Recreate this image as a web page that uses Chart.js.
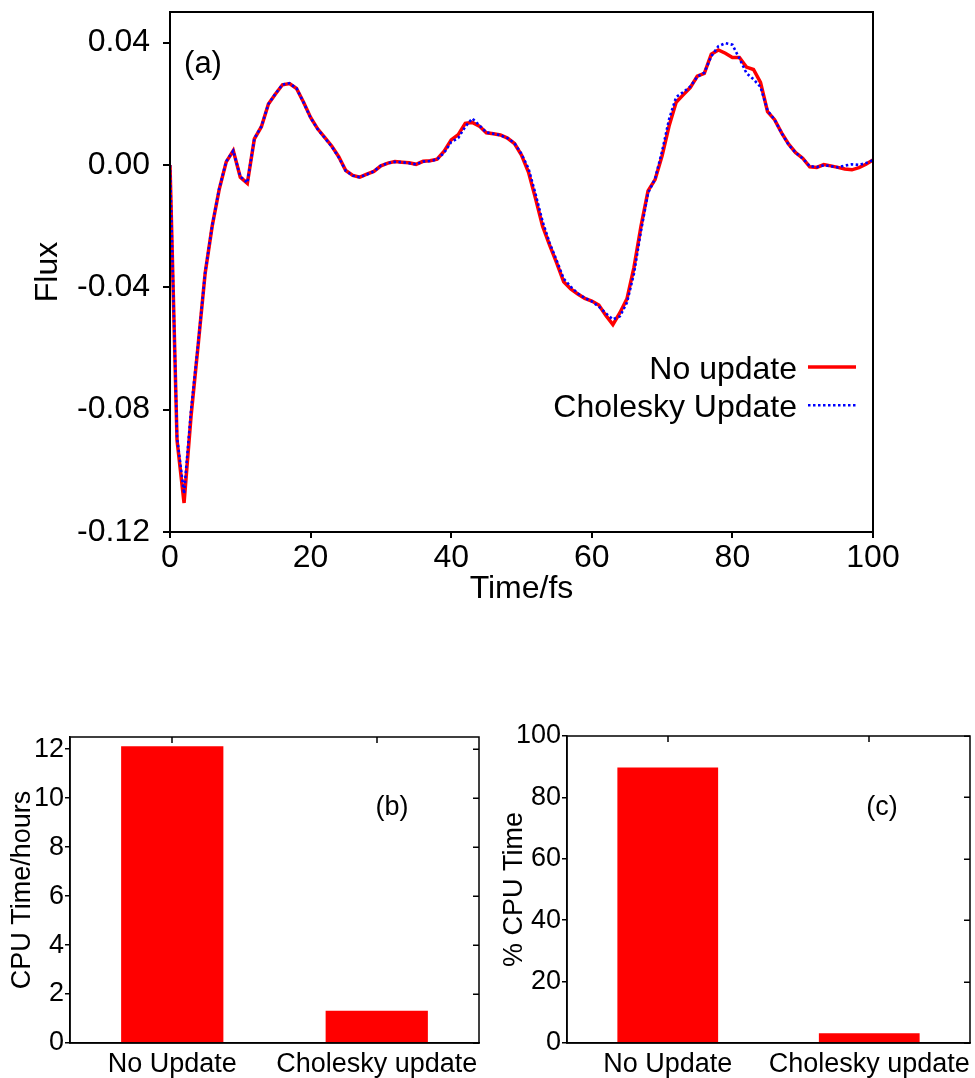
<!DOCTYPE html>
<html>
<head>
<meta charset="utf-8">
<title>Flux and CPU time</title>
<script src="https://cdn.jsdelivr.net/npm/chart.js@4.4.1/dist/chart.umd.min.js"></script>
<style>
  html, body { margin: 0; padding: 0; background: #fff; }
  body { width: 975px; height: 1078px; position: relative; overflow: hidden; }
  canvas { position: absolute; }
  #fluxChart { left: 0; top: 0; }
  #hoursChart { left: 0; top: 700px; }
  #percentChart { left: 490px; top: 700px; }
</style>
</head>
<body>
<canvas id="fluxChart" width="975" height="620"></canvas>
<canvas id="hoursChart" width="490" height="378"></canvas>
<canvas id="percentChart" width="485" height="378"></canvas>
<script>
const FONT = '"Liberation Sans", Arial, Helvetica, sans-serif';

// ---- panel (a): flux vs time ----
const timeFs = [
  0, 1, 2, 3, 4, 5, 6, 7, 8, 9,
  10, 11, 12, 13, 14, 15, 16, 17, 18, 19,
  20, 21, 22, 23, 24, 25, 26, 27, 28, 29,
  30, 31, 32, 33, 34, 35, 36, 37, 38, 39,
  40, 41, 42, 43, 44, 45, 46, 47, 48, 49,
  50, 51, 52, 53, 54, 55, 56, 57, 58, 59,
  60, 61, 62, 63, 64, 65, 66, 67, 68, 69,
  70, 71, 72, 73, 74, 75, 76, 77, 78, 79,
  80, 81, 82, 83, 84, 85, 86, 87, 88, 89,
  90, 91, 92, 93, 94, 95, 96, 97, 98, 99,
  100
];
const fluxNoUpdate = [
  0.0000, -0.0900, -0.1105, -0.0820, -0.0590, -0.0354, -0.0200, -0.0080, 0.0010, 0.0047,
  -0.0040, -0.0060, 0.0085, 0.0125, 0.0199, 0.0232, 0.0262, 0.0266, 0.0250, 0.0205,
  0.0155, 0.0118, 0.0090, 0.0062, 0.0027, -0.0018, -0.0034, -0.0040, -0.0030, -0.0021,
  -0.0003, 0.0006, 0.0011, 0.0009, 0.0007, 0.0002, 0.0012, 0.0014, 0.0019, 0.0045,
  0.0082, 0.0099, 0.0136, 0.0139, 0.0127, 0.0105, 0.0102, 0.0098, 0.0088, 0.0070,
  0.0032, -0.0024, -0.0110, -0.0200, -0.0262, -0.0320, -0.0382, -0.0405, -0.0422, -0.0436,
  -0.0445, -0.0458, -0.0492, -0.0522, -0.0483, -0.0438, -0.0335, -0.0200, -0.0085, -0.0048,
  0.0030, 0.0128, 0.0205, 0.0229, 0.0253, 0.0290, 0.0299, 0.0362, 0.0376, 0.0365,
  0.0351, 0.0351, 0.0320, 0.0312, 0.0270, 0.0174, 0.0148, 0.0105, 0.0068, 0.0040,
  0.0022, -0.0006, -0.0008, 0.0001, -0.0003, -0.0008, -0.0013, -0.0016, -0.0009, 0.0002,
  0.0016
];
const fluxCholesky = [
  0.0000, -0.0890, -0.1075, -0.0800, -0.0585, -0.0352, -0.0198, -0.0078, 0.0012, 0.0046,
  -0.0038, -0.0058, 0.0086, 0.0126, 0.0199, 0.0233, 0.0263, 0.0267, 0.0250, 0.0204,
  0.0154, 0.0117, 0.0089, 0.0060, 0.0025, -0.0019, -0.0035, -0.0040, -0.0031, -0.0021,
  -0.0002, 0.0006, 0.0010, 0.0009, 0.0006, 0.0002, 0.0011, 0.0013, 0.0018, 0.0040,
  0.0075, 0.0088, 0.0125, 0.0152, 0.0130, 0.0106, 0.0102, 0.0097, 0.0088, 0.0071,
  0.0036, -0.0012, -0.0095, -0.0185, -0.0255, -0.0312, -0.0372, -0.0398, -0.0420, -0.0435,
  -0.0446, -0.0463, -0.0485, -0.0505, -0.0495, -0.0450, -0.0355, -0.0215, -0.0092, -0.0045,
  0.0045, 0.0150, 0.0222, 0.0238, 0.0256, 0.0288, 0.0302, 0.0355, 0.0388, 0.0398,
  0.0393, 0.0348, 0.0300, 0.0280, 0.0255, 0.0178, 0.0148, 0.0104, 0.0066, 0.0040,
  0.0021, -0.0004, -0.0007, -0.0001, -0.0004, -0.0008, -0.0002, 0.0002, 0.0000, 0.0006,
  0.0016
];
const fluxTicks = [-0.12, -0.08, -0.04, 0.00, 0.04];
const timeTicks = [0, 20, 40, 60, 80, 100];

// ---- panels (b) and (c): cost of the two schemes ----
const methods = ['No Update', 'Cholesky update'];
const cpuHours = [12.12, 1.32];
const cpuHoursTicks = [0, 2, 4, 6, 8, 10, 12];
const cpuPercent = [89.7, 3.2];
const cpuPercentTicks = [0, 20, 40, 60, 80, 100];

Chart.defaults.font.family = FONT;
Chart.defaults.color = '#000';

const pairs = (xs, ys) => xs.map((x, i) => ({ x: x, y: ys[i] }));
const fixedTicks = list => scale => { scale.ticks = list.map(v => ({ value: v })); };
// fixed axis thickness, no extra room reserved for overhanging end labels
const fixWidth = w => s => { s.width = w; s.paddingTop = 0; s.paddingBottom = 0; };
const fixHeight = h => s => { s.height = h; s.paddingLeft = 0; s.paddingRight = 0; };

// closed frame round the plotting area
const framePlugin = {
  id: 'frame',
  afterDraw(chart, args, opts) {
    const a = chart.chartArea, ctx = chart.ctx;
    ctx.save();
    ctx.strokeStyle = '#000';
    ctx.lineWidth = opts.width || 2;
    ctx.strokeRect(a.left, a.top, a.right - a.left, a.bottom - a.top);
    ctx.restore();
  }
};

// mirrored tick marks pointing into the plot on the right and top edges
const innerTicksPlugin = {
  id: 'innerTicks',
  afterDraw(chart, args, opts) {
    if (!opts.enabled) return;
    const a = chart.chartArea, ctx = chart.ctx;
    const len = opts.length || 6;
    ctx.save();
    ctx.strokeStyle = '#000';
    ctx.lineWidth = 1.5;
    ctx.beginPath();
    chart.scales.y.ticks.forEach(t => {
      const y = Math.round(chart.scales.y.getPixelForValue(t.value)) + 0.25;
      ctx.moveTo(a.right, y); ctx.lineTo(a.right - len, y);
    });
    chart.scales.x.ticks.forEach((t, i) => {
      const x = Math.round(chart.scales.x.getPixelForTick(i));
      ctx.moveTo(x, a.top); ctx.lineTo(x, a.top + len);
    });
    ctx.stroke();
    ctx.restore();
  }
};

// panel letter inside the plotting area
const panelTagPlugin = {
  id: 'panelTag',
  afterDraw(chart, args, opts) {
    if (!opts.text) return;
    const a = chart.chartArea, ctx = chart.ctx;
    ctx.save();
    ctx.fillStyle = '#000';
    ctx.font = opts.size + 'px ' + FONT;
    ctx.textAlign = 'center';
    ctx.textBaseline = 'alphabetic';
    ctx.fillText(opts.text, a.left + opts.dx, a.top + opts.dy + opts.size * 0.36);
    ctx.restore();
  }
};

// key with the label first and the line sample after it
const keyPlugin = {
  id: 'lineKey',
  afterDraw(chart, args, opts) {
    if (!opts.enabled) return;
    const a = chart.chartArea, ctx = chart.ctx;
    ctx.save();
    ctx.font = opts.size + 'px ' + FONT;
    ctx.textAlign = 'right';
    ctx.textBaseline = 'alphabetic';
    chart.data.datasets.forEach((ds, i) => {
      const y = a.top + opts.top + i * opts.rowGap;
      ctx.fillStyle = '#000';
      ctx.fillText(ds.label, a.right - opts.textRight, y + opts.size * 0.36);
      ctx.strokeStyle = ds.borderColor;
      ctx.lineWidth = ds.borderWidth;
      ctx.setLineDash(ds.borderDash || []);
      ctx.beginPath();
      ctx.moveTo(a.right - opts.lineStart, y);
      ctx.lineTo(a.right - opts.lineEnd, y);
      ctx.stroke();
    });
    ctx.restore();
  }
};

Chart.register(framePlugin, innerTicksPlugin, panelTagPlugin, keyPlugin);

// ---------- (a) ----------
new Chart(document.getElementById('fluxChart'), {
  type: 'line',
  data: {
    datasets: [
      {
        label: 'No update',
        data: pairs(timeFs, fluxNoUpdate),
        borderColor: '#ff0000',
        borderWidth: 3.5,
        pointRadius: 0,
        tension: 0,
        order: 1
      },
      {
        label: 'Cholesky Update',
        data: pairs(timeFs, fluxCholesky),
        borderColor: '#0000ff',
        borderWidth: 2.6,
        borderDash: [2.5, 2.5],
        borderCapStyle: 'butt',
        pointRadius: 0,
        tension: 0,
        order: 0
      }
    ]
  },
  options: {
    responsive: false,
    animation: false,
    events: [],
    layout: { padding: { top: 12, right: 102, bottom: 0, left: 0 } },
    plugins: {
      legend: { display: false },
      tooltip: { enabled: false },
      frame: { width: 2 },
      innerTicks: { enabled: false },
      panelTag: { text: '(a)', dx: 33, dy: 50, size: 31 },
      lineKey: { enabled: true, size: 32, top: 355, rowGap: 38.3, textRight: 76, lineStart: 65, lineEnd: 17 }
    },
    scales: {
      x: {
        type: 'linear',
        min: 0,
        max: 100,
        afterBuildTicks: fixedTicks(timeTicks),
        afterFit: fixHeight(88),
        grid: { drawOnChartArea: false, drawTicks: true, tickLength: 6, color: '#000', lineWidth: 2 },
        border: { display: true, color: '#000', width: 2 },
        ticks: { font: { size: 32, lineHeight: 1 }, padding: 4, maxRotation: 0, color: '#000' },
        title: { display: true, text: 'Time/fs', font: { size: 32, lineHeight: 1 }, padding: { top: 0, bottom: 15 }, color: '#000' }
      },
      y: {
        type: 'linear',
        min: -0.12,
        max: 0.05,
        afterBuildTicks: fixedTicks(fluxTicks),
        afterFit: fixWidth(170),
        grid: { drawOnChartArea: false, drawTicks: true, tickLength: 7, color: '#000', lineWidth: 2 },
        border: { display: true, color: '#000', width: 2 },
        ticks: { font: { size: 32, lineHeight: 1 }, padding: 13, color: '#000', callback: v => v.toFixed(2) },
        title: { display: true, text: 'Flux', font: { size: 32, lineHeight: 1 }, padding: { top: 32, bottom: 0 }, color: '#000' }
      }
    }
  }
});

// shared settings for the two bar panels
function barOptions(tag, yMax, yTicks, yTitle, axisWidth, titlePad, padTop, padRight) {
  return {
    responsive: false,
    animation: false,
    events: [],
    layout: { padding: { top: padTop, right: padRight, bottom: 0, left: 0 } },
    plugins: {
      legend: { display: false },
      tooltip: { enabled: false },
      frame: { width: 1.5 },
      innerTicks: { enabled: true, length: 6 },
      panelTag: { text: tag.text, dx: tag.dx, dy: tag.dy, size: 27 },
      lineKey: { enabled: false }
    },
    scales: {
      x: {
        type: 'category',
        offset: true,
        afterFit: fixHeight(35),
        grid: { display: false, drawTicks: false },
        border: { display: true, color: '#000', width: 1.5 },
        ticks: { font: { size: 27, lineHeight: 1 }, padding: 8, maxRotation: 0, autoSkip: false, color: '#000' }
      },
      y: {
        type: 'linear',
        min: 0,
        max: yMax,
        afterBuildTicks: fixedTicks(yTicks),
        afterFit: fixWidth(axisWidth),
        grid: { drawOnChartArea: false, drawTicks: true, tickLength: 5, color: '#000', lineWidth: 1.5 },
        border: { display: true, color: '#000', width: 1.5 },
        ticks: { font: { size: 27, lineHeight: 1 }, padding: 1, color: '#000' },
        title: { display: true, text: yTitle, font: { size: 27, lineHeight: 1 }, padding: { top: titlePad, bottom: 0 }, color: '#000' }
      }
    }
  };
}

// ---------- (b) ----------
new Chart(document.getElementById('hoursChart'), {
  type: 'bar',
  data: {
    labels: methods,
    datasets: [{
      data: cpuHours,
      backgroundColor: '#ff0000',
      borderWidth: 0,
      barPercentage: 0.5,
      categoryPercentage: 1.0
    }]
  },
  options: barOptions({ text: '(b)', dx: 322, dy: 68 }, 12.5, cpuHoursTicks, 'CPU Time/hours', 70, 9, 37, 11)
});

// ---------- (c) ----------
new Chart(document.getElementById('percentChart'), {
  type: 'bar',
  data: {
    labels: methods,
    datasets: [{
      data: cpuPercent,
      backgroundColor: '#ff0000',
      borderWidth: 0,
      barPercentage: 0.5,
      categoryPercentage: 1.0
    }]
  },
  options: barOptions({ text: '(c)', dx: 315, dy: 69 }, 100, cpuPercentTicks, '% CPU Time', 77, 11.5, 36, 5)
});
</script>
</body>
</html>
